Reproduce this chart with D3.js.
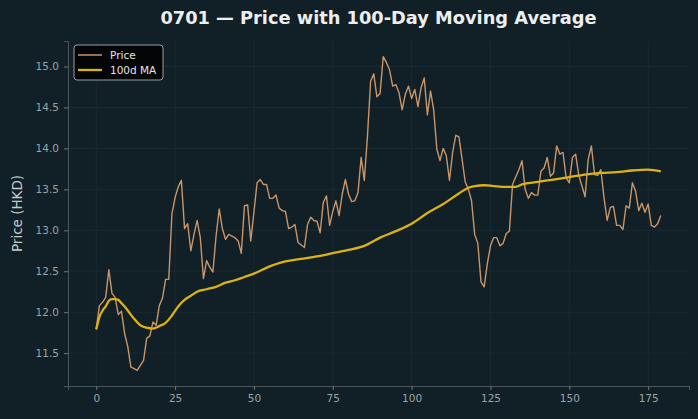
<!DOCTYPE html>
<html>
<head>
<meta charset="utf-8">
<script src="https://cdn.jsdelivr.net/npm/d3@7"></script>
<style>
  html, body { margin: 0; padding: 0; background: #111f26; }
  svg { display: block; font-family: "DejaVu Sans", sans-serif; }
</style>
</head>
<body>
<div id="chart"></div>
<script>
// Closing prices per trading day
const prices = [
    11.79, 12.08, 12.12, 12.18, 12.52, 12.23, 12.18, 11.97, 12.01, 11.74,
    11.58, 11.33, 11.31, 11.29, 11.35, 11.41, 11.68, 11.71, 11.88, 11.84,
    12.08, 12.17, 12.40, 12.40, 13.20, 13.40, 13.53, 13.61, 13.02, 13.08,
    12.75, 12.95, 13.12, 12.91, 12.41, 12.63, 12.55, 12.49, 12.93, 13.26,
    13.02, 12.89, 12.95, 12.93, 12.91, 12.87, 12.72, 13.30, 13.31, 12.87,
    13.22, 13.58, 13.62, 13.56, 13.56, 13.39, 13.39, 13.43, 13.27, 13.24,
    13.23, 13.02, 13.04, 13.07, 12.85, 12.82, 12.79, 13.07, 13.16, 13.12,
    13.11, 12.97, 13.34, 13.42, 13.06, 13.23, 13.36, 13.18, 13.44, 13.62,
    13.44, 13.35, 13.36, 13.46, 13.89, 13.61, 14.15, 14.82, 14.91, 14.63,
    14.67, 15.12, 15.05, 14.96, 14.76, 14.78, 14.68, 14.47, 14.66, 14.76,
    14.61, 14.72, 14.51, 14.74, 14.86, 14.41, 14.70, 14.47, 13.99, 13.85,
    14.00, 13.91, 13.61, 13.95, 14.16, 14.14, 13.87, 13.59, 13.50, 13.36,
    12.95, 12.84, 12.37, 12.31, 12.59, 12.81, 12.91, 12.91, 12.81, 12.84,
    12.96, 12.99, 13.56, 13.65, 13.74, 13.85, 13.50, 13.39, 13.46, 13.43,
    13.43, 13.72, 13.76, 13.89, 13.66, 13.70, 14.03, 13.93, 13.95, 13.64,
    13.58, 13.89, 13.93, 13.67, 13.54, 13.41, 13.87, 14.03, 13.68, 13.67,
    13.74, 13.40, 13.12, 13.28, 13.29, 13.06, 13.06, 13.01, 13.30, 13.27,
    13.58, 13.48, 13.24, 13.33, 13.22, 13.32, 13.06, 13.04, 13.08, 13.18
];
const days = prices.map((p, i) => i);

// 100-day moving average, read at these days
const maDays = [0, 1, 2, 3, 4, 5, 6, 7, 8, 9, 10, 12, 14, 16, 18, 20, 22, 24, 26, 28,
    30, 32, 35, 38, 41, 44, 47, 50, 55, 60, 65, 70, 75, 80, 85, 90, 95, 100, 105, 110,
    115, 118, 120, 123, 126, 130, 133, 135, 140, 145, 150, 155, 160, 165, 170, 175, 179];
const maValues = [11.79, 11.94, 12.02, 12.07, 12.14, 12.16, 12.16, 12.15, 12.11, 12.07,
    12.02, 11.92, 11.84, 11.81, 11.80, 11.83, 11.87, 11.96, 12.07, 12.15,
    12.20, 12.25, 12.28, 12.31, 12.36, 12.39, 12.43, 12.47, 12.56, 12.62,
    12.65, 12.68, 12.72, 12.76, 12.81, 12.91, 12.99, 13.08, 13.21, 13.32,
    13.45, 13.52, 13.54, 13.55, 13.54, 13.53, 13.53, 13.56, 13.59, 13.62,
    13.65, 13.68, 13.70, 13.71, 13.73, 13.74, 13.72];

const xTicks = [0, 25, 50, 75, 100, 125, 150, 175];
const yTicks = [11.5, 12.0, 12.5, 13.0, 13.5, 14.0, 14.5, 15.0];

const title = "0701 \u2014 Price with 100-Day Moving Average";
const yLabel = "Price (HKD)";
const seriesNames = ["Price", "100d MA"];

// Layout
const W = 698, H = 419;
const margin = { top: 41, right: 9, bottom: 33, left: 68 };
const width = W - margin.left - margin.right;
const height = H - margin.top - margin.bottom;

const priceColor = "#c8966a";
const maColor = "#dcb315";

const svg = d3.select("#chart").append("svg")
    .attr("width", W)
    .attr("height", H);

svg.append("rect").attr("width", W).attr("height", H).attr("fill", "#111f26");

const g = svg.append("g")
    .attr("transform", `translate(${margin.left},${margin.top})`);

// Scales (5% padding like matplotlib)
const xPad = (d3.max(days) - d3.min(days)) * 0.05;
const x = d3.scaleLinear()
    .domain([d3.min(days) - xPad, d3.max(days) + xPad])
    .range([0, width]);

const yMin = d3.min(prices), yMax = d3.max(prices);
const yPad = (yMax - yMin) * 0.05;
const y = d3.scaleLinear()
    .domain([yMin - yPad, yMax + yPad])
    .range([height, 0]);

// Grid
g.append("g")
    .selectAll("line.gx")
    .data(xTicks)
    .join("line")
    .attr("x1", d => x(d)).attr("x2", d => x(d))
    .attr("y1", 0).attr("y2", height)
    .attr("stroke", "#1d2c33")
    .attr("stroke-width", 0.8);

g.append("g")
    .selectAll("line.gy")
    .data(yTicks)
    .join("line")
    .attr("x1", 0).attr("x2", width)
    .attr("y1", d => y(d)).attr("y2", d => y(d))
    .attr("stroke", "#1d2c33")
    .attr("stroke-width", 0.8);

// Axes
const xAxis = g.append("g")
    .attr("transform", `translate(0,${height})`)
    .call(d3.axisBottom(x).tickValues(xTicks).tickFormat(d3.format("d")).tickSize(4).tickPadding(5));

const yAxis = g.append("g")
    .call(d3.axisLeft(y).tickValues(yTicks).tickFormat(d3.format(".1f")).tickSize(4).tickPadding(5));

[xAxis, yAxis].forEach(ax => {
    ax.select(".domain").attr("stroke", "#4a565c").attr("stroke-width", 1);
    ax.selectAll(".tick line").attr("stroke", "#6b767b");
    ax.selectAll(".tick text")
        .attr("fill", "#9aa3a7")
        .style("font-size", "10.5px")
        .style("font-family", "DejaVu Sans, sans-serif");
});

// Lines
const priceLine = d3.line()
    .x((d, i) => x(days[i]))
    .y(d => y(d));

g.append("path")
    .datum(prices)
    .attr("fill", "none")
    .attr("stroke", priceColor)
    .attr("stroke-width", 1.4)
    .attr("stroke-linejoin", "round")
    .attr("d", priceLine);

const maLine = d3.line()
    .curve(d3.curveMonotoneX)
    .x((d, i) => x(maDays[i]))
    .y(d => y(d));

g.append("path")
    .datum(maValues)
    .attr("fill", "none")
    .attr("stroke", maColor)
    .attr("stroke-width", 2.3)
    .attr("stroke-linejoin", "round")
    .attr("d", maLine);

// Title
svg.append("text")
    .attr("x", margin.left + width / 2)
    .attr("y", 24)
    .attr("text-anchor", "middle")
    .attr("fill", "#eeeeee")
    .style("font-size", "17.8px")
    .style("font-weight", "bold")
    .text(title);

// Y axis label
svg.append("text")
    .attr("transform", `translate(22,${margin.top + height / 2}) rotate(-90)`)
    .attr("text-anchor", "middle")
    .attr("fill", "#c4cacd")
    .style("font-size", "13.5px")
    .text(yLabel);

// Legend
const legend = g.append("g")
    .attr("transform", "translate(6,4)");

legend.append("rect")
    .attr("width", 89)
    .attr("height", 35)
    .attr("rx", 3)
    .attr("fill", "#030506")
    .attr("stroke", "#9aa0a3")
    .attr("stroke-width", 1);

const legendColors = [priceColor, maColor];
const legendWidths = [1.5, 2.3];

legend.selectAll(".lg-line")
    .data(seriesNames)
    .join("line")
    .attr("x1", 4).attr("x2", 28)
    .attr("y1", (d, i) => 10 + i * 15)
    .attr("y2", (d, i) => 10 + i * 15)
    .attr("stroke", (d, i) => legendColors[i])
    .attr("stroke-width", (d, i) => legendWidths[i]);

legend.selectAll(".lg-text")
    .data(seriesNames)
    .join("text")
    .attr("x", 36)
    .attr("y", (d, i) => 14 + i * 15)
    .attr("fill", "#e4e4e4")
    .style("font-size", "10.5px")
    .text(d => d);
</script>
</body>
</html>
